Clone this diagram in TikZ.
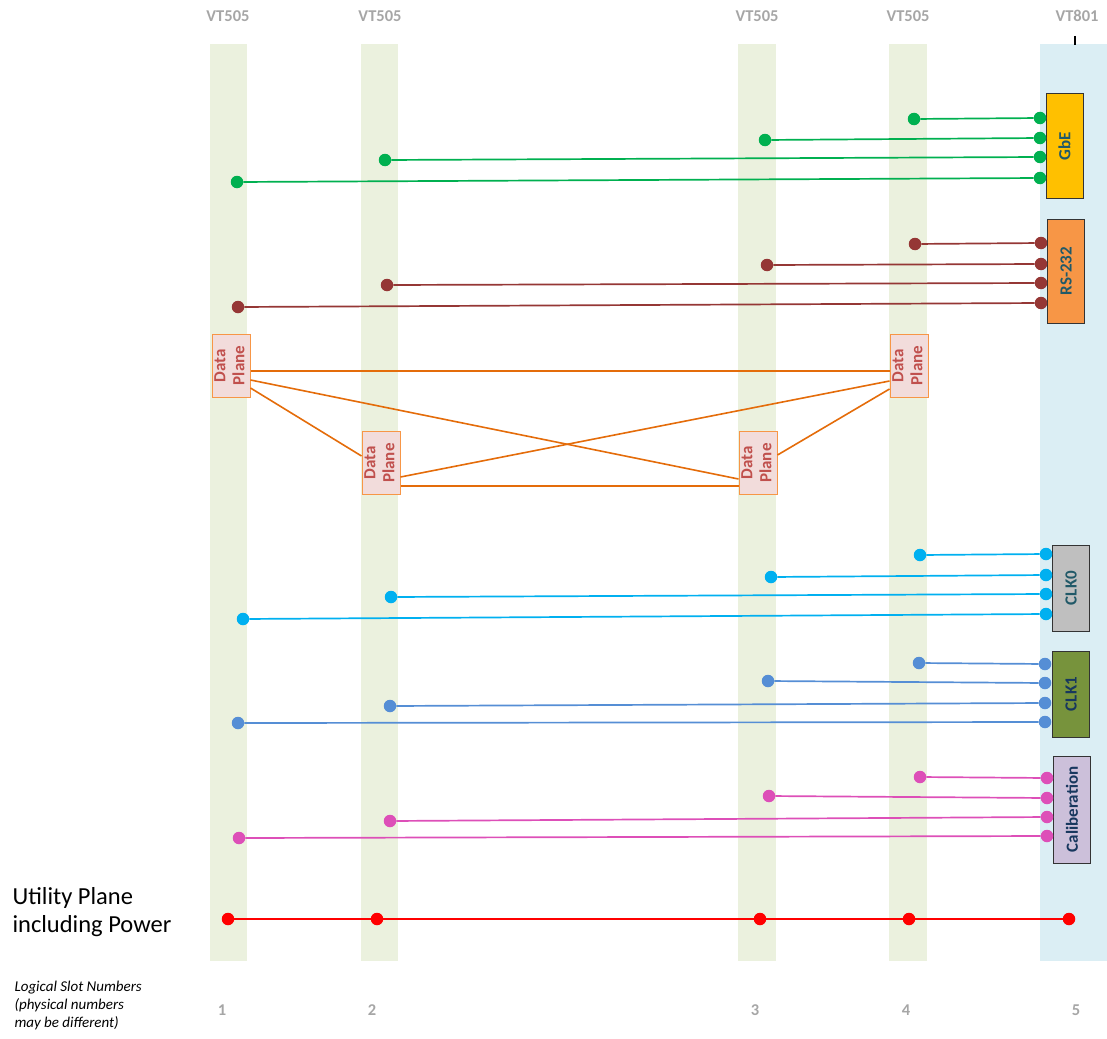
\documentclass[tikz,border=0pt]{standalone}
\usepackage{fontspec}
\setmainfont{Carlito}

\definecolor{slotgreen}{HTML}{EBF1DE}
\definecolor{slotblue}{HTML}{DBEEF4}
\definecolor{labelgray}{HTML}{A6A6A6}
\definecolor{gbecol}{HTML}{00B050}
\definecolor{rscol}{HTML}{953735}
\definecolor{clkzcol}{HTML}{00B0F0}
\definecolor{clkocol}{HTML}{558ED5}
\definecolor{calcol}{HTML}{DD4FB8}
\definecolor{dpline}{HTML}{E46C0A}
\definecolor{dpfill}{HTML}{F2DCDB}
\definecolor{dpdraw}{HTML}{F79646}
\definecolor{dptext}{HTML}{C0504D}
\definecolor{tealtext}{HTML}{215968}
\definecolor{navytext}{HTML}{17375E}

\begin{document}
\begin{tikzpicture}[x=1pt,y=-1pt,
  vtlabel/.style={text=labelgray,font=\fontsize{16.5}{18}\selectfont\bfseries},
  modbox/.style={draw=black!80,line width=1pt,minimum width=37pt,inner sep=0pt,font=\fontsize{17}{19}\selectfont\bfseries},
  dpbox/.style={draw=dpdraw,fill=dpfill,line width=1pt,minimum width=38pt,minimum height=63pt,
    inner sep=0pt,text=dptext,font=\fontsize{17}{19}\selectfont\bfseries},
  dot/.style={circle,inner sep=0pt,minimum size=12.5pt},
  link/.style={line width=1.7pt},
  dplink/.style={dpline,line width=1.6pt}]
\useasboundingbox (0,0) rectangle (1107,1038);

% slot strips
\fill[slotgreen] (210,44) rectangle (247,961);
\fill[slotgreen] (361,44) rectangle (398,961);
\fill[slotgreen] (738,44) rectangle (776,961);
\fill[slotgreen] (889,44) rectangle (927,961);
\fill[slotblue] (1040,44) rectangle (1107,961);

\node[vtlabel] (vta) at (228,16) {VT505};
\node[vtlabel] (vtb) at (380,16) {VT505};
\node[vtlabel] (vtc) at (757,16) {VT505};
\node[vtlabel] (vtd) at (908,16) {VT505};
\node[vtlabel] (vte) at (1077,16) {VT801};
\draw[line width=1.5pt] (1075,36) -- (1075,45);

% module boxes
\node[modbox,fill={rgb,255:red,255;green,192;blue,0},minimum height=104pt,text=tealtext] (gbe) at (1064.5,146) {\rotatebox{90}{GbE}};
\node[modbox,fill=dpdraw,minimum height=104pt,text=tealtext] (rs) at (1066,271) {\rotatebox{90}{RS-232}};
\node[modbox,fill=black!25,minimum height=86pt,text=tealtext] (clkz) at (1071,588) {\rotatebox{90}{CLK0}};
\node[modbox,fill={rgb,255:red,119;green,147;blue,60},minimum height=86pt,text=navytext] (clko) at (1071,694) {\rotatebox{90}{CLK1}};
\node[modbox,fill={rgb,255:red,204;green,192;blue,218},minimum height=107pt,text=navytext] (cal) at (1072,809.5) {\rotatebox{90}{Caliberation}};

% GbE
\foreach \i/\xa/\ya/\yb in {1/914/119/118, 2/765/140/138, 3/385/160/157, 4/237/182/178} {
  \node[dot,fill=gbecol] (gbe\i) at (\xa,\ya) {};
  \node[dot,fill=gbecol] (gbe\i-r) at (1040,\yb) {};
  \draw[link,gbecol] (gbe\i) -- (gbe\i-r);
}
% RS-232
\foreach \i/\xa/\ya/\yb in {1/915/244/243, 2/767/265/264, 3/387/285/283, 4/238/307/303} {
  \node[dot,fill=rscol] (rs\i) at (\xa,\ya) {};
  \node[dot,fill=rscol] (rs\i-r) at (1041,\yb) {};
  \draw[link,rscol] (rs\i) -- (rs\i-r);
}
% CLK0
\foreach \i/\xa/\ya/\yb in {1/920/555/554, 2/771/577/575, 3/391/597/594, 4/243/619/614} {
  \node[dot,fill=clkzcol] (clkz\i) at (\xa,\ya) {};
  \node[dot,fill=clkzcol] (clkz\i-r) at (1046,\yb) {};
  \draw[link,clkzcol] (clkz\i) -- (clkz\i-r);
}
% CLK1
\foreach \i/\xa/\ya/\yb in {1/919/663/664, 2/768/681/683, 3/390/706/703, 4/238/723/722} {
  \node[dot,fill=clkocol] (clko\i) at (\xa,\ya) {};
  \node[dot,fill=clkocol] (clko\i-r) at (1045,\yb) {};
  \draw[link,clkocol] (clko\i) -- (clko\i-r);
}
% Caliberation
\foreach \i/\xa/\ya/\yb in {1/920/777/778, 2/769/796/798, 3/390/821/817, 4/239/838/836} {
  \node[dot,fill=calcol] (cal\i) at (\xa,\ya) {};
  \node[dot,fill=calcol] (cal\i-r) at (1047,\yb) {};
  \draw[link,calcol] (cal\i) -- (cal\i-r);
}

% data plane mesh
\node[dpbox] (dpa) at (231,365.5) {\rotatebox{90}{\begin{tabular}{@{}c@{}}Data\\Plane\end{tabular}}};
\node[dpbox] (dpb) at (381,463) {\rotatebox{90}{\begin{tabular}{@{}c@{}}Data\\Plane\end{tabular}}};
\node[dpbox] (dpc) at (758,463) {\rotatebox{90}{\begin{tabular}{@{}c@{}}Data\\Plane\end{tabular}}};
\node[dpbox] (dpd) at (909,365.5) {\rotatebox{90}{\begin{tabular}{@{}c@{}}Data\\Plane\end{tabular}}};
\draw[dplink] (dpa.east |- 0,371) -- (dpd.west |- 0,371);
\draw[dplink] (dpa.east |- 0,380) -- (dpc.west |- 0,479);
\draw[dplink] (dpa.east |- 0,388) -- (dpb.west |- 0,456);
\draw[dplink] (dpb.east |- 0,477) -- (dpd.west |- 0,381);
\draw[dplink] (dpb.east |- 0,486) -- (dpc.west |- 0,486);
\draw[dplink] (dpc.east |- 0,455) -- (dpd.west |- 0,389);

% utility plane
\foreach \i/\xa in {1/228, 2/377, 3/760, 4/909, 5/1069}
  \node[dot,fill=red] (up\i) at (\xa,919) {};
\draw[link,red] (up1) -- (up2) (up2) -- (up3) (up3) -- (up4) (up4) -- (up5);

\node[anchor=west,align=left,font=\fontsize{24.5}{28}\selectfont] (uplabel) at (9,912) {Utility Plane\\including Power};
\node[anchor=north west,align=left,font=\fontsize{15}{18}\selectfont\itshape] (slotnote) at (11,978) {Logical Slot Numbers\\(physical numbers\\may be different)};

\node[vtlabel] (sa) at (222,1010) {1};
\node[vtlabel] (sb) at (372,1010) {2};
\node[vtlabel] (sc) at (755,1010) {3};
\node[vtlabel] (sd) at (906,1010) {4};
\node[vtlabel] (se) at (1076,1010) {5};
\end{tikzpicture}
\end{document}
